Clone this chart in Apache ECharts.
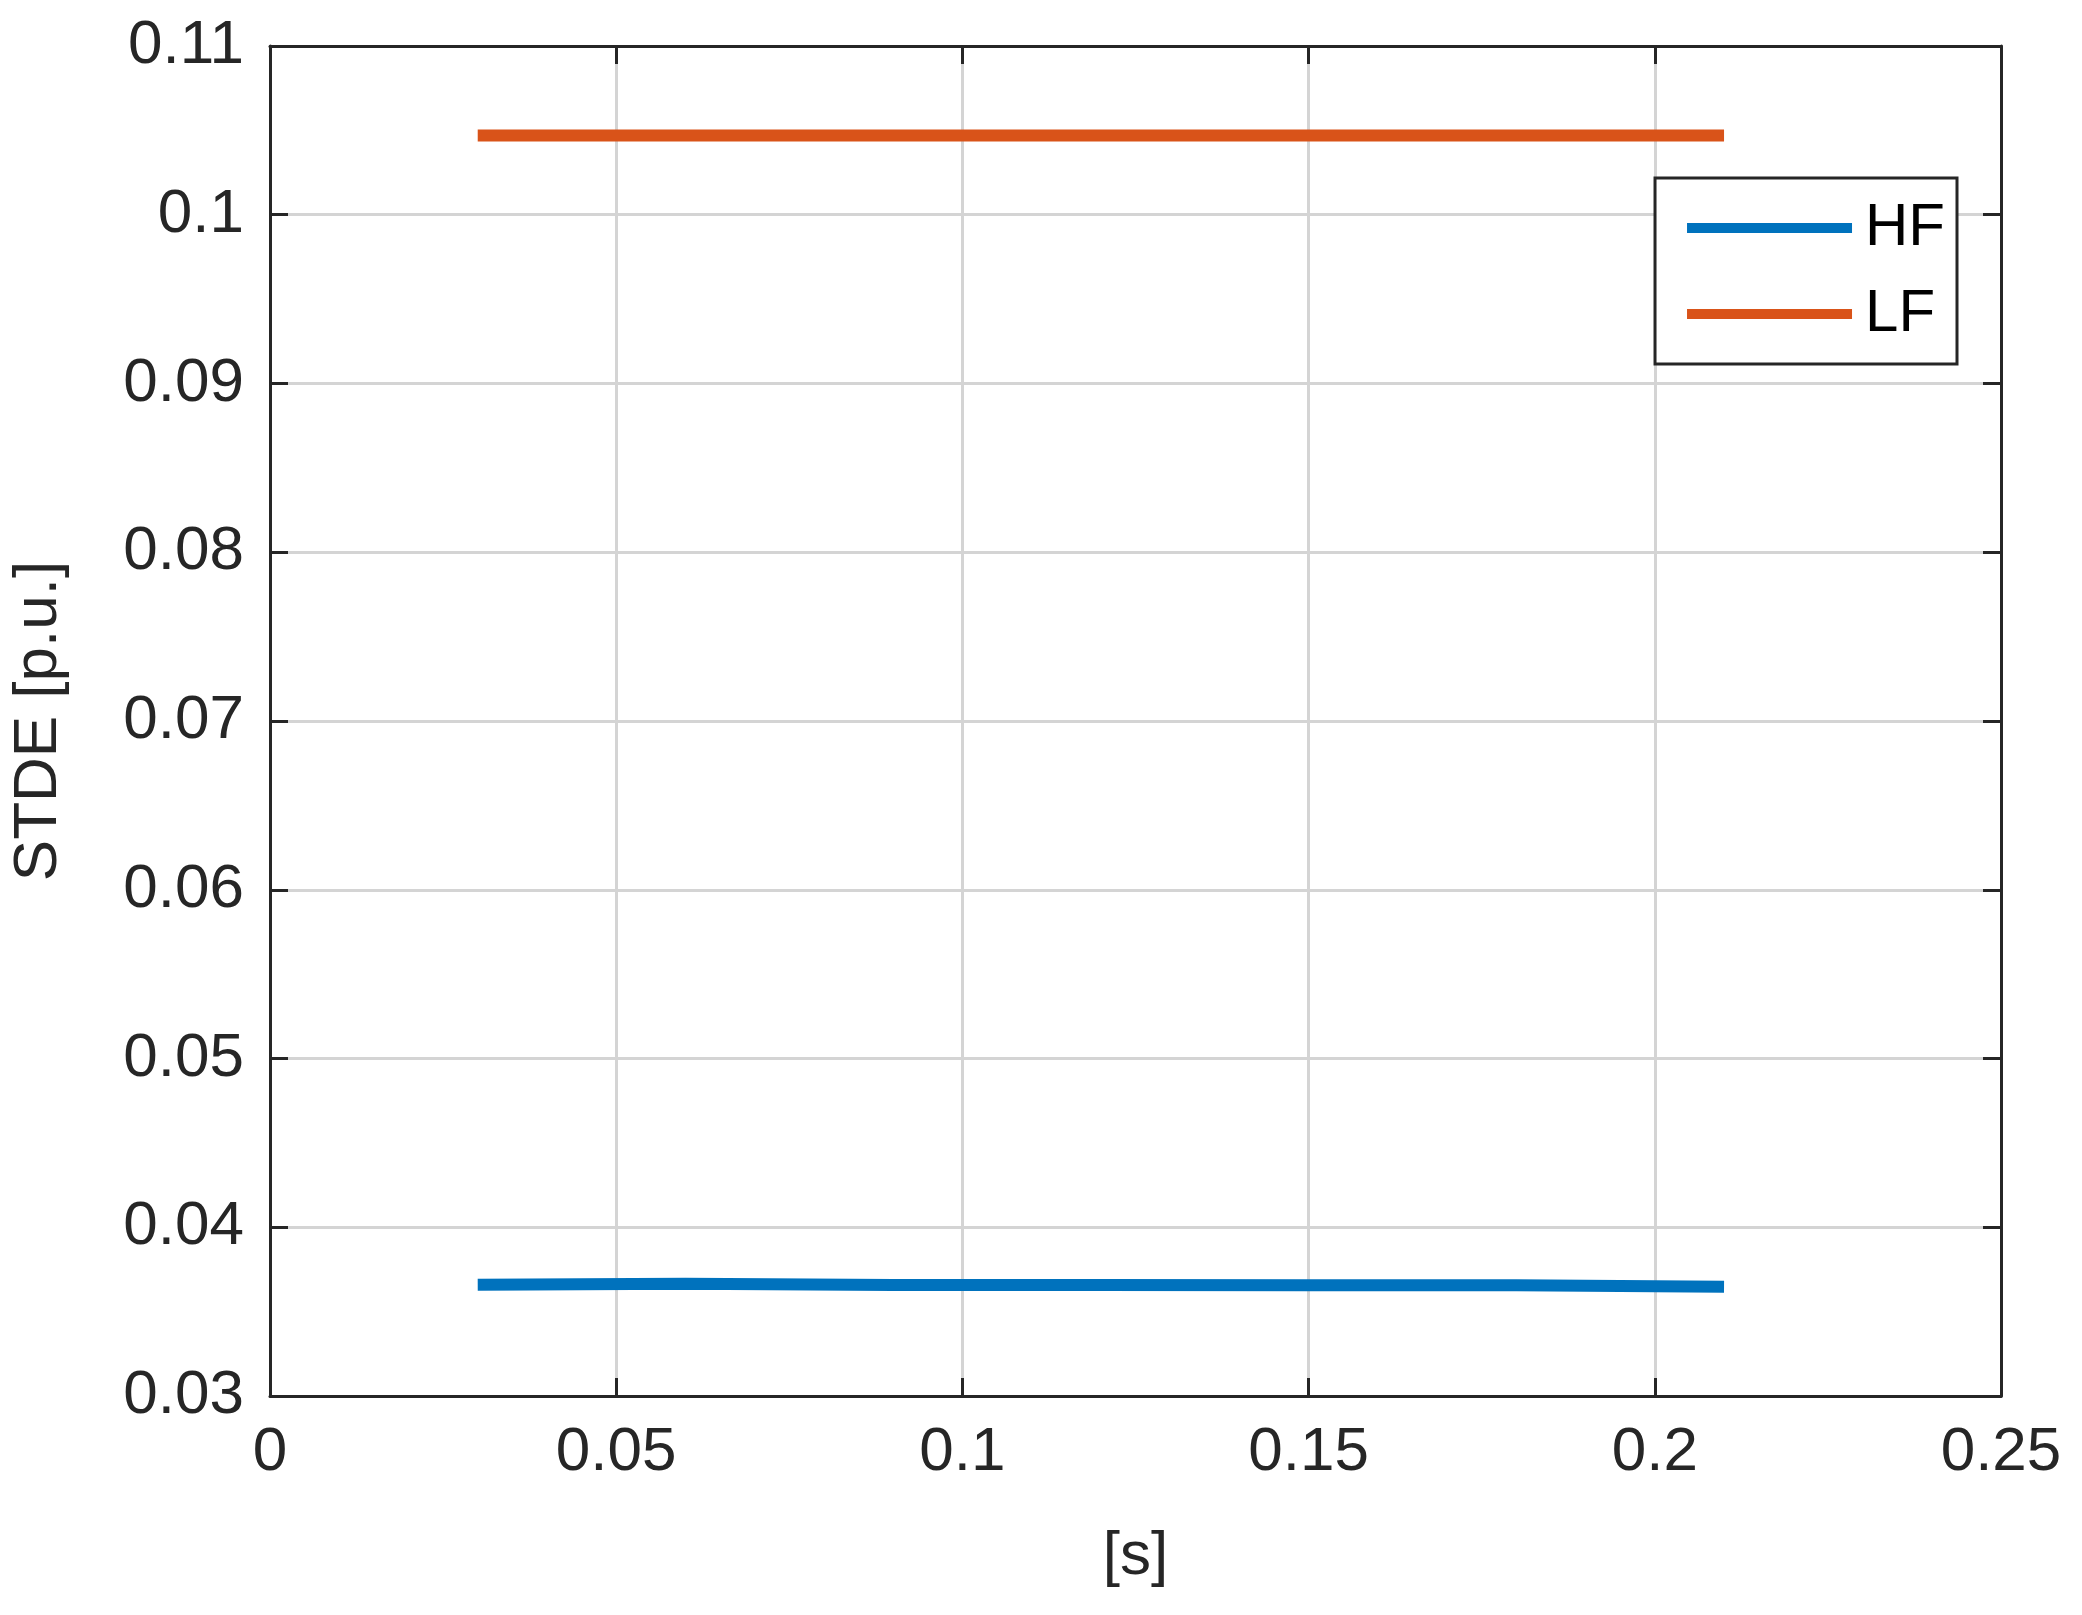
<!DOCTYPE html>
<html>
<head>
<meta charset="utf-8">
<script src="https://cdn.jsdelivr.net/npm/echarts@6/dist/echarts.min.js"></script>
<style>html,body{margin:0;padding:0;background:#fff}#c{width:2082px;height:1615px}</style>
</head>
<body>
<div id="c"></div>
<script>
var xs = [0.03, 0.06, 0.09, 0.12, 0.15, 0.18, 0.21];
var hf = [0.03660, 0.03665, 0.03658, 0.03658, 0.03656, 0.03657, 0.03648];
var lf = [0.1047, 0.1047, 0.1047, 0.1047, 0.1047, 0.1047, 0.1047];

var font = 'Liberation Sans, Arial, sans-serif';
var axisCol = '#262626';
function pairs(v){ return xs.map(function(x,i){ return [x, v[i]]; }); }

var chart = echarts.init(document.getElementById('c'));
var baseX = {
    type: 'value', min: 0, max: 0.25, interval: 0.05,
    axisLine: { show: true, onZero: false, lineStyle: { color: axisCol, width: 3 } },
    axisTick: { show: true, inside: true, length: 18, lineStyle: { color: axisCol, width: 3 } }
};
var baseY = {
    type: 'value', min: 0.03, max: 0.11, interval: 0.01,
    axisLine: { show: true, onZero: false, lineStyle: { color: axisCol, width: 3 } },
    axisTick: { show: true, inside: true, length: 18, lineStyle: { color: axisCol, width: 3 } }
};
chart.setOption({
    animation: false,
    backgroundColor: '#fff',
    grid: { left: 266, right: 81, top: 46, bottom: 219 },
    legend: {
        orient: 'vertical', right: 125, top: 178,
        data: ['HF', 'LF'],
        icon: 'rect', itemWidth: 165, itemHeight: 10, itemGap: 26,
        padding: [20, 12, 20, 32],
        borderColor: axisCol, borderWidth: 3, backgroundColor: '#fff',
        textStyle: { fontFamily: font, fontSize: 60, color: '#000', padding: [0, 0, 0, 8] }
    },
    xAxis: [
        Object.assign({}, baseX, {
            name: '[s]', nameLocation: 'middle', nameGap: 130,
            nameTextStyle: { fontFamily: font, fontSize: 62, color: axisCol },
            axisLabel: { fontFamily: font, fontSize: 62, color: axisCol, margin: 26,
                formatter: function(v){ return +v.toFixed(2) + ''; } },
            splitLine: { show: true, lineStyle: { color: '#d4d4d4', width: 3 } }
        }),
        Object.assign({}, baseX, { position: 'top', axisLabel: { show: false }, splitLine: { show: false } })
    ],
    yAxis: [
        Object.assign({}, baseY, {
            name: 'STDE [p.u.]', nameLocation: 'middle', nameGap: 200,
            nameTextStyle: { fontFamily: font, fontSize: 62, color: axisCol },
            axisLabel: { fontFamily: font, fontSize: 62, color: axisCol, margin: 26,
                formatter: function(v){ return +v.toFixed(2) + ''; } },
            splitLine: { show: true, lineStyle: { color: '#d4d4d4', width: 3 } }
        }),
        Object.assign({}, baseY, { position: 'right', axisLabel: { show: false }, splitLine: { show: false } })
    ],
    series: [
        { name: 'HF', type: 'line', data: pairs(hf), showSymbol: false, color: '#0072BD',
          lineStyle: { width: 12, color: '#0072BD' } },
        { name: 'LF', type: 'line', data: pairs(lf), showSymbol: false, color: '#D95319',
          lineStyle: { width: 12, color: '#D95319' } }
    ]
});
</script>
</body>
</html>
